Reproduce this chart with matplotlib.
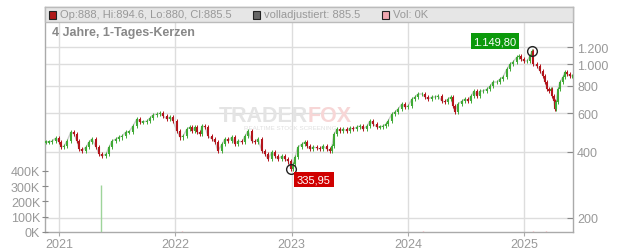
import matplotlib
matplotlib.use('Agg')
import matplotlib.pyplot as plt
from matplotlib.patches import Rectangle
from matplotlib.ticker import FixedLocator, NullLocator

plt.rcParams['font.family'] = ['Liberation Sans', 'DejaVu Sans']

# Zeit in Dezimaljahren, Schlusskurse
t = [2020.886, 2020.911, 2020.937, 2020.972, 2020.997, 2021.015, 2021.040, 2021.066, 2021.101, 2021.127,
     2021.152, 2021.170, 2021.195, 2021.230, 2021.256, 2021.281, 2021.316, 2021.342, 2021.367, 2021.402,
     2021.428, 2021.454, 2021.488, 2021.514, 2021.540, 2021.574, 2021.600, 2021.634, 2021.669, 2021.695,
     2021.720, 2021.755, 2021.781, 2021.806, 2021.841, 2021.867, 2021.892, 2021.927, 2021.953, 2021.978,
     2022.013, 2022.039, 2022.065, 2022.099, 2022.125, 2022.142, 2022.168, 2022.185, 2022.211, 2022.228,
     2022.254, 2022.280, 2022.314, 2022.340, 2022.366, 2022.400, 2022.426, 2022.452, 2022.486, 2022.512,
     2022.538, 2022.572, 2022.598, 2022.624, 2022.658, 2022.684, 2022.710, 2022.744, 2022.770, 2022.796,
     2022.830, 2022.856, 2022.882, 2022.917, 2022.942, 2022.968, 2022.994, 2023.011, 2023.028, 2023.054,
     2023.089, 2023.115, 2023.132, 2023.158, 2023.183, 2023.218, 2023.244, 2023.269, 2023.304, 2023.330,
     2023.347, 2023.364, 2023.390, 2023.416, 2023.441, 2023.476, 2023.502, 2023.528, 2023.562, 2023.588,
     2023.614, 2023.648, 2023.674, 2023.700, 2023.734, 2023.760, 2023.786, 2023.812, 2023.829, 2023.863,
     2023.889, 2023.915, 2023.949, 2023.975, 2024.001, 2024.035, 2024.061, 2024.087, 2024.121, 2024.147,
     2024.173, 2024.207, 2024.233, 2024.259, 2024.293, 2024.319, 2024.345, 2024.371, 2024.388, 2024.405,
     2024.431, 2024.466, 2024.491, 2024.517, 2024.543, 2024.569, 2024.595, 2024.620, 2024.646, 2024.681,
     2024.707, 2024.732, 2024.767, 2024.793, 2024.818, 2024.853, 2024.879, 2024.904, 2024.939, 2024.956,
     2024.973, 2024.999, 2025.025, 2025.051, 2025.068, 2025.077, 2025.111, 2025.137, 2025.163, 2025.180,
     2025.197, 2025.214, 2025.232, 2025.240, 2025.257, 2025.266, 2025.275, 2025.292, 2025.309, 2025.335,
     2025.352, 2025.369, 2025.395, 2025.412]
close = [444, 444, 448, 463, 444, 421, 425, 448, 493, 482,
         448, 412, 404, 421, 444, 458, 421, 391, 383, 391,
         421, 448, 458, 467, 472, 493, 493, 525, 565, 547,
         547, 553, 571, 589, 595, 600, 583, 565, 577, 553,
         498, 467, 472, 508, 519, 498, 519, 493, 482, 525,
         519, 472, 458, 444, 404, 434, 458, 448, 467, 434,
         448, 444, 472, 498, 448, 444, 458, 404, 391, 371,
         399, 383, 371, 383, 371, 363, 336, 352, 379, 421,
         434, 444, 425, 412, 421, 417, 412, 425, 412, 404,
         425, 482, 508, 498, 508, 498, 514, 508, 519, 525,
         508, 525, 553, 536, 519, 519, 525, 536, 553, 595,
         608, 627, 661, 640, 647, 696, 711, 734, 734, 711,
         696, 711, 711, 718, 682, 675, 696, 711, 647, 608,
         661, 682, 696, 682, 718, 757, 718, 757, 757, 773,
         798, 832, 832, 859, 877, 954, 1005, 1026, 1081, 1093,
         1059, 1037, 1037, 1093, 1150, 1005, 984, 934, 886, 832,
         773, 757, 773, 718, 682, 627, 675, 773, 832, 877,
         924, 905, 886, 886]

# Volumen in Tausend
vol_t = [2021.36, 2022.06, 2022.50, 2024.13, 2025.08, 2025.19]
vol_k = [310, 4, 3, 4, 4, 4]

price_ticks = [200, 400, 600, 800, 1000, 1200]
price_labels = ['200', '400', '600', '800', '1.000', '1.200']
vol_ticks = [0, 100, 200, 300, 400]
years = [2021, 2022, 2023, 2024, 2025]

hi_t, hi_v = 2025.068, 1149.80
lo_t, lo_v = 2022.994, 335.95

W, H = 632, 253
fig = plt.figure(figsize=(W / 100, H / 100), dpi=100)
ax = fig.add_axes([45 / W, 20 / H, 528 / W, 225 / H])
ax.set_yscale('log')
ax.set_ylim(172.7, 1826)
ax.set_xlim(2020.877, 2025.421)
ax.set_axisbelow(True)

# Volumen-Achse zuerst anlegen, da twinx die Ticks der Hauptachse nach links setzt
vax = ax.twinx()
vax.set_ylim(0, 1475)

for s in ax.spines.values():
    s.set_color('#aaaaaa')
    s.set_linewidth(1)

ax.yaxis.tick_right()
ax.yaxis.set_label_position('right')
ax.yaxis.set_major_locator(FixedLocator(price_ticks))
ax.yaxis.set_minor_locator(NullLocator())
ax.set_yticklabels(price_labels)
ax.tick_params(axis='y', which='both', left=False, labelleft=False, right=True, labelright=True,
               direction='in', length=4, color='#888888', labelcolor='#999999',
               labelsize=9, pad=3)
ax.set_xticks(years)
ax.set_xticklabels([str(y) for y in years])
ax.tick_params(axis='x', direction='out', length=3, color='#aaaaaa', labelcolor='#999999',
               labelsize=9, pad=1)
ax.grid(True, color='#dddddd', lw=1)

# grau: volladjustierte Linie hinter den Kerzen
ax.plot(t, close, color='#cccccc', lw=1, zorder=2)

# Kerzen: Eroeffnung = vorheriger Schluss, duenne Dochte
for i in range(len(t)):
    o = close[i - 1] if i > 0 else close[i]
    c = close[i]
    col = '#3fa935' if c >= o else '#b3141b'
    lo_, hi_ = min(o, c), max(o, c)
    ax.vlines(t[i], lo_ * 0.975, hi_ * 1.025, color=col, lw=0.7, zorder=3)
    if hi_ - lo_ < 3:
        lo_, hi_ = lo_ - 3, hi_ + 3
    ax.vlines(t[i], lo_, hi_, color=col, lw=1.5, zorder=3)

# Hoch / Tief
ax.plot([hi_t], [hi_v], 'o', mfc='none', mec='#222222', ms=7, mew=1, zorder=5)
ax.plot([lo_t], [lo_v], 'o', mfc='none', mec='#222222', ms=7, mew=1, zorder=5)
ax.annotate('1.149,80', (hi_t, hi_v), xytext=(-37, 10), textcoords='offset pixels',
            ha='center', va='center', color='white', fontsize=8, zorder=6,
            bbox=dict(boxstyle='square,pad=0.25', fc='#0b990b', ec='none'))
ax.annotate('335,95', (lo_t, lo_v), xytext=(23, -11), textcoords='offset pixels',
            ha='center', va='center', color='white', fontsize=8, zorder=6,
            bbox=dict(boxstyle='square,pad=0.25', fc='#d00000', ec='none'))

# Volumen (linke Achse)
vax.yaxis.tick_left()
for s in vax.spines.values():
    s.set_visible(False)
vax.set_yticks(vol_ticks)
vax.set_yticklabels(['%dK' % v for v in vol_ticks])
vax.yaxis.set_minor_locator(NullLocator())
vax.tick_params(axis='y', right=False, labelright=False, left=True, labelleft=True,
                direction='inout', length=5, color='#888888', labelcolor='#999999',
                labelsize=9, pad=1)
vcols = ['#9ed49a'] + ['#f0a8b0'] * (len(vol_t) - 1)
vax.vlines(vol_t, 0, vol_k, colors=vcols, lw=1)

# Wasserzeichen
fig.text(308 / W, 1 - 116 / H, 'TRADER', ha='right', va='center', fontsize=15.5,
         fontweight='bold', color='#e4e4e4', zorder=0.5)
fig.text(308 / W, 1 - 116 / H, 'FOX', ha='left', va='center', fontsize=15.5,
         fontweight='bold', color='#f7d6d6', zorder=0.5)
fig.text(290 / W, 1 - 129 / H, 'REALTIME STOCK SCREENING', ha='center', va='center',
         fontsize=4.5, color='#e0e0e0', zorder=0.5)

# Kopfzeile
fig.add_artist(Rectangle((45 / W, 1 - 23 / H), 528 / W, 15 / H, transform=fig.transFigure,
                         fc='#e6e6e6', ec='#bbbbbb', lw=1, zorder=5))
yh = 1 - 15.5 / H
for x0, fc, txt in [(49, '#b01818', 'Op:888, Hi:894.6, Lo:880, Cl:885.5'),
                    (253, '#666666', 'volladjustiert: 885.5'),
                    (382, '#f0a8b0', 'Vol: 0K')]:
    fig.add_artist(Rectangle((x0 / W, 1 - 19.5 / H), 7 / W, 8 / H, transform=fig.transFigure,
                             fc=fc, ec='#222222', lw=0.8, zorder=6))
    fig.text((x0 + 11) / W, yh, txt, ha='left', va='center', fontsize=8, color='#999999',
             zorder=6)

fig.text(52 / W, 1 - 33 / H, '4 Jahre, 1-Tages-Kerzen', ha='left', va='center', fontsize=9,
         fontweight='bold', color='#888888')

fig.savefig('out.png', dpi=100)
